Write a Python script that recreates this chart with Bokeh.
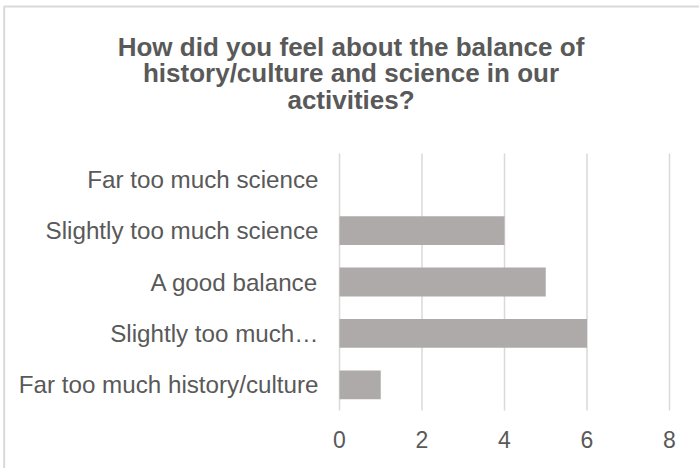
from bokeh.plotting import figure
from bokeh.models import ColumnDataSource, Range1d, BoxAnnotation, FixedTicker
from bokeh.core.properties import value
from bokeh.embed import file_html
from bokeh.resources import INLINE

# Survey answers, listed top to bottom as shown on the chart
categories = [
    "Far too much science",
    "Slightly too much science",
    "A good balance",
    "Slightly too much\u2026",
    "Far too much history/culture",
]
counts = [0, 4, 5, 6, 1]
x_ticks = [0, 2, 4, 6, 8]
title_lines = [
    "How did you feel about the balance of",
    "history/culture and science in our",
    "activities?",
]

TEXT = "#595959"
GRID = "#D9D9D9"
BAR = "#AEAAAA"
FONT = "Liberation Sans"

# page layout in pixels: the plot area sits inside a bordered chart box
W, H = 699, 468
AREA_L, AREA_R, AREA_T, AREA_B = 339, 669, 153, 410
TITLE_BASELINES = [46, 72.5, 99]

n = len(categories)
x_max = x_ticks[-1]
px_per_x = (AREA_R - AREA_L) / x_max
band = (AREA_B - AREA_T) / n


def x_at(px):
    return (px - AREA_L) / px_per_x


def y_at(py):
    return (n - 0.5) - (py - AREA_T) / band


# category i (from the top) sits at y = n-1-i
positions = [n - 1 - i for i in range(n)]
source = ColumnDataSource(dict(y=positions, n=counts, cat=categories))

p = figure(
    width=W, height=H,
    x_range=Range1d(x_at(0), x_at(W)),
    y_range=Range1d(y_at(H), y_at(0)),
    output_backend="svg", toolbar_location=None, min_border=0,
)
p.title.visible = False
p.outline_line_color = None
p.background_fill_color = "white"
p.border_fill_color = "white"
p.xgrid.visible = False
p.ygrid.visible = False

# vertical gridlines across the plot area
p.segment(x0=x_ticks, x1=x_ticks, y0=-0.5, y1=n - 0.5,
          line_color=GRID, line_width=1.5)

p.hbar(y="y", right="n", left=0, height=0.56, source=source,
       fill_color=BAR, line_color=None)

# value axis along the bottom of the plot area
xa = p.xaxis[0]
xa.fixed_location = -0.5
xa.ticker = FixedTicker(ticks=x_ticks)
xa.axis_line_color = None
xa.major_tick_line_color = None
xa.minor_tick_line_color = None
xa.major_tick_out = 0
xa.major_label_standoff = 20
xa.major_label_text_font = FONT
xa.major_label_text_font_size = "23px"
xa.major_label_text_color = TEXT

# category axis at zero
ya = p.yaxis[0]
ya.fixed_location = 0
ya.ticker = FixedTicker(ticks=positions)
ya.major_label_overrides = {pos: cat for pos, cat in zip(positions, categories)}
ya.axis_line_color = None
ya.major_tick_line_color = None
ya.minor_tick_line_color = None
ya.major_tick_out = 0
ya.major_label_standoff = 21
ya.major_label_text_font = FONT
ya.major_label_text_font_size = "24.2px"
ya.major_label_text_color = TEXT

# chart title
p.text(x=[x_at(W / 2 + 1)] * len(title_lines),
       y=[y_at(b) for b in TITLE_BASELINES],
       text=title_lines, text_align="center", text_baseline="alphabetic",
       text_font=value(FONT), text_font_size=value("26px"),
       text_font_style="bold", text_color=TEXT)

# chart box border (open to the right and bottom edges of the page)
p.add_layout(BoxAnnotation(
    left=3.7, right=W + 20, top=H - 6, bottom=-20,
    left_units="screen", right_units="screen",
    top_units="screen", bottom_units="screen",
    fill_alpha=0, line_color=GRID, line_alpha=1, line_width=2,
))

open("out.html", "w").write(file_html(p, INLINE))
